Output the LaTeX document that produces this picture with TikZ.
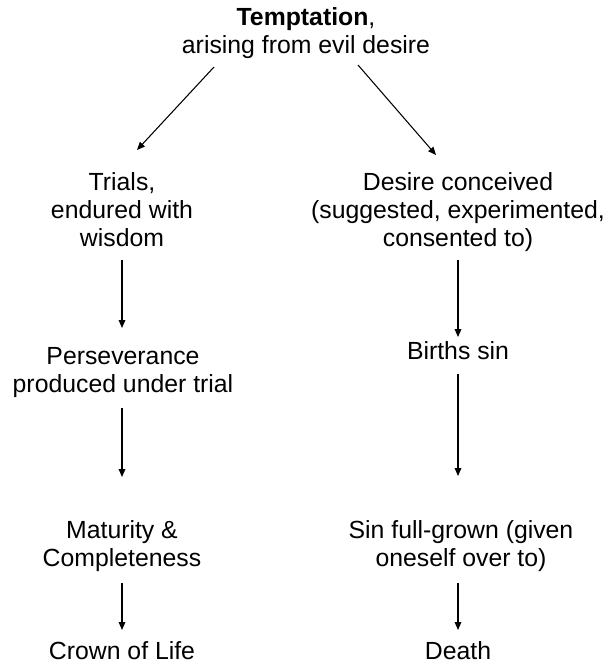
\documentclass[tikz,border=0pt]{standalone}
\usepackage{fontspec}
\setmainfont{Liberation Sans}
\usetikzlibrary{arrows.meta,calc}
\begin{document}
\begin{tikzpicture}[x=0.75pt,y=-0.75pt,
  lbl/.style={inner sep=0pt, align=center, font=\fontsize{18.6}{21}\selectfont,
    execute at begin node=\strut, execute at end node=\strut},
  arr/.style={-{Triangle[length=6pt,width=5pt]}, line width=0.8pt}]
\useasboundingbox[fill=white] (0,0) rectangle (613,663);
\node[lbl] (top) at (306,35) {\textbf{Temptation},\\arising from evil desire};
\node[lbl] (trials) at (122,214) {Trials,\\endured with\\wisdom};
\node[lbl] (persev) at (123,374) {Perseverance\\produced under trial};
\node[lbl] (matur) at (122,548) {Maturity \&\\Completeness};
\node[lbl] (crown) at (122,654) {Crown of Life};
\node[lbl] (desire) at (458,214) {Desire conceived\\(suggested, experimented,\\consented to)};
\node[lbl] (births) at (458,354) {Births sin};
\node[lbl] (sinfull) at (461,548) {Sin full-grown (given\\oneself over to)};
\node[lbl] (death) at (458,654) {Death};
\draw[arr] ($(top)+(-92,32)$) -- ($(trials)+(15,-64)$);
\draw[arr] ($(top)+(52,30)$) -- ($(desire)+(-22,-59)$);
\draw[arr] ($(trials)+(0,46)$) -- ($(persev)+(-1,-46)$);
\draw[arr] ($(persev)+(-1,34)$) -- ($(matur)+(0,-71)$);
\draw[arr] ($(matur)+(0,35)$) -- ($(crown)+(0,-24)$);
\draw[arr] ($(desire)+(0,46)$) -- ($(births)+(0,-17)$);
\draw[arr] ($(births)+(0,20)$) -- ($(sinfull)+(-3,-72)$);
\draw[arr] ($(sinfull)+(-3,35)$) -- ($(death)+(0,-24)$);
\end{tikzpicture}
\end{document}
